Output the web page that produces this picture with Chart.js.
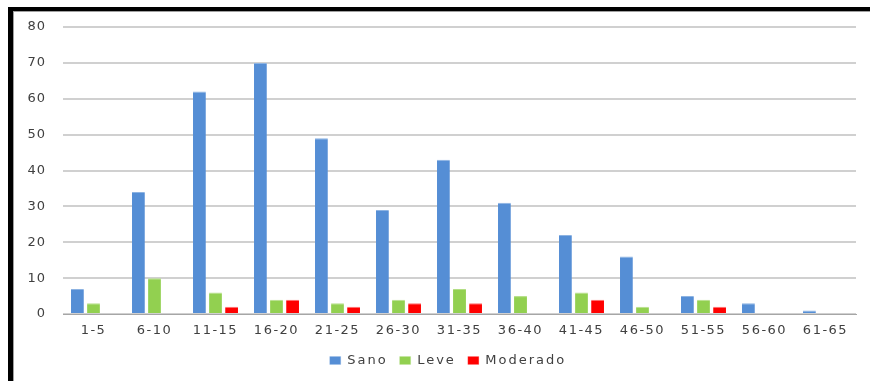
<!DOCTYPE html>
<html>
<head>
<meta charset="utf-8">
<script src="https://cdn.jsdelivr.net/npm/chart.js@4/dist/chart.umd.min.js"></script>
<style>
  html, body { margin: 0; padding: 0; background: #fff; }
  #wrap { position: relative; width: 870px; height: 381px; overflow: hidden; }
  #frame {
    position: absolute; left: 8px; top: 7px; width: 900px; height: 400px;
    border-left: 5px solid #000; border-top: 4px solid #000;
    box-shadow: inset 1px 1px 0 #a0a0a0;
    pointer-events: none;
  }
  canvas { position: absolute; left: 0; top: 0; }
</style>
</head>
<body>
<div id="wrap">
  <canvas id="c" width="870" height="381"></canvas>
  <div id="frame"></div>
</div>
<script>
// Age groups (years)
const categories = ['1-5', '6-10', '11-15', '16-20', '21-25', '26-30', '31-35',
                    '36-40', '41-45', '46-50', '51-55', '56-60', '61-65'];
// Counts per severity
const sano     = [7, 34, 62, 70, 49, 29, 43, 31, 22, 16, 5, 3, 1];
const leve     = [3, 10, 6, 4, 3, 4, 7, 5, 6, 2, 4, 0, 0];
const moderado = [0, 0, 2, 4, 2, 3, 3, 0, 4, 0, 2, 0, 0];
const yTicks   = [0, 10, 20, 30, 40, 50, 60, 70, 80];

const font = { family: 'DejaVu Sans', size: 13 };
const textColor = '#404040';

// Wide-set lettering: run a drawing/measuring method with a given letter spacing
// (and an optional horizontal offset)
function withSpacing(obj, method, spacing, dx = 0) {
  const orig = obj[method].bind(obj);
  obj[method] = function (...args) {
    const ctx = obj.ctx;
    ctx.save();
    ctx.letterSpacing = spacing;
    if (dx) ctx.translate(dx, 0);
    const r = orig(...args);
    ctx.restore();
    return r;
  };
}

const spacedText = {
  id: 'spacedText',
  afterInit(chart) {
    withSpacing(chart.legend, 'fit', '2px');
    withSpacing(chart.legend, 'draw', '2px', 20);
  },
  beforeDraw(chart) {
    const sx = chart.scales.x, sy = chart.scales.y;
    if (!sx._spaced) { withSpacing(sx, 'drawLabels', '1.5px'); sx._spaced = true; }
    if (!sy._spaced) { withSpacing(sy, 'drawLabels', '1px'); sy._spaced = true; }
  }
};

function series(label, data, color, edge) {
  return {
    label, data,
    backgroundColor: color,
    borderColor: edge,
    borderWidth: { top: 1, left: 0, right: 0, bottom: 0 },
    borderSkipped: 'bottom',
    barPercentage: 0.8,
    categoryPercentage: 0.79
  };
}

new Chart(document.getElementById('c'), {
  type: 'bar',
  data: {
    labels: categories,
    datasets: [
      series('Sano', sano, '#558ED5', '#8DB3E2'),
      series('Leve', leve, '#92D050', '#B8E08C'),
      series('Moderado', moderado, '#FF0000', '#FF7070')
    ]
  },
  plugins: [spacedText],
  options: {
    responsive: false,
    animation: false,
    layout: { padding: { left: 0, right: 14, top: 27, bottom: 4 } },
    plugins: {
      tooltip: { enabled: false },
      legend: {
        position: 'bottom',
        labels: {
          font, color: textColor,
          boxWidth: 11, boxHeight: 8,
          padding: 12
        }
      }
    },
    scales: {
      x: {
        grid: { display: false, drawTicks: false },
        border: { display: true, color: '#a6a6a6', width: 1 },
        ticks: { font, color: textColor, padding: 9, maxRotation: 0 },
        afterFit(axis) { axis.height = 28; }
      },
      y: {
        min: 0, max: 80,
        afterBuildTicks(axis) { axis.ticks = yTicks.map(v => ({ value: v })); },
        grid: { color: '#d0d0d0', lineWidth: 2, drawTicks: false },
        border: { display: false },
        ticks: { font, color: textColor, padding: 17 },
        afterFit(axis) { axis.width = 63; }
      }
    }
  }
});
</script>
</body>
</html>
